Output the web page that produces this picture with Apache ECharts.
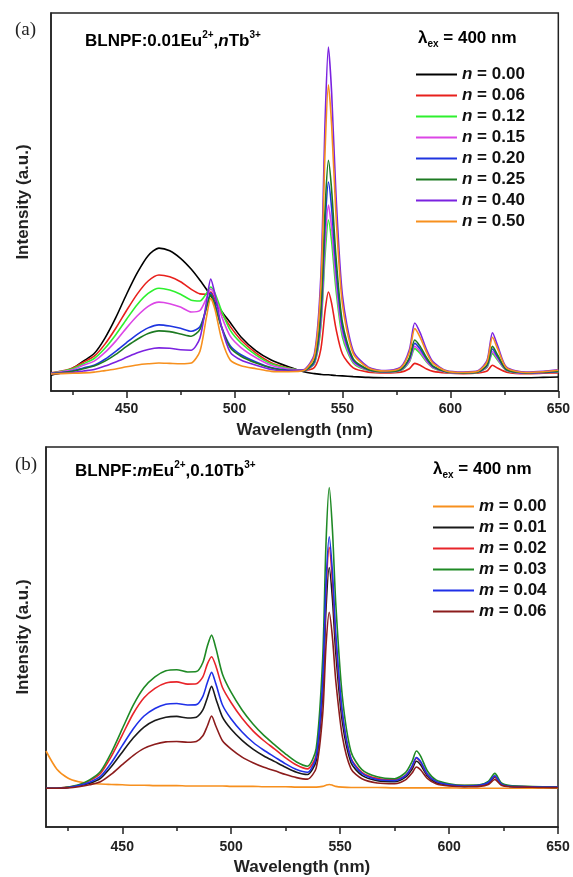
<!DOCTYPE html>
<html><head><meta charset="utf-8">
<script src="https://cdn.jsdelivr.net/npm/echarts@6/dist/echarts.min.js"></script>
<style>html,body{margin:0;padding:0;background:#fff}#c{width:573px;height:877px}</style>
</head><body><div id="c"></div>
<script>
// ---------- data ----------
const majorTicks = [450, 500, 550, 600, 650];
const minorTicks = [425, 475, 525, 575, 625];

const wlA = [415,420,425,430,435,440,445,450,455,460,465,470,475,480,484,487,489,491,494,498,503,510,517,525,532,537,540,542,543.5,545,547,550,555,562,570,577,581,583.5,586,589,592,598,606,613,617,619.5,622,626,635,643,650];
const namesA = ['n = 0.00','n = 0.06','n = 0.12','n = 0.15','n = 0.20','n = 0.25','n = 0.40','n = 0.50'];
const n000 = [4.2,4.8,6.0,7.9,9.9,14.0,19.4,25.6,31.3,35.8,37.8,37.1,35.1,32.2,29.3,26.9,25.2,23.5,21.1,18.1,14.3,10.6,8.2,6.4,5.1,4.6,4.4,4.3,4.3,4.2,4.1,4.0,3.8,3.6,3.5,3.5,3.5,3.5,3.5,3.5,3.5,3.5,3.5,3.5,3.5,3.5,3.5,3.5,3.5,3.6,3.7];
const n006 = [4.8,5.3,6.1,7.6,9.2,12.4,16.6,21.3,25.7,29.1,30.7,30.2,28.9,26.9,25.7,25.6,26.2,24.2,20.7,17.1,13.5,10.0,7.5,6.1,5.4,6.2,11.1,21.4,26.2,23.2,16.5,9.8,6.1,5.0,4.8,5.0,5.9,7.3,6.8,5.8,5.2,4.8,4.6,4.8,5.3,6.8,6.0,5.0,4.6,4.7,4.8];
const n012 = [4.7,5.2,5.9,7.2,8.6,11.3,14.9,19.0,22.9,25.8,27.2,26.7,25.6,24.0,23.8,25.8,27.5,25.8,21.2,16.1,12.7,9.5,7.2,6.0,5.5,7.2,16.8,36.3,45.2,39.5,26.9,14.3,7.4,5.4,5.0,5.4,7.7,11.2,9.9,7.7,6.1,5.0,4.7,5.0,6.3,9.9,8.1,5.4,4.7,4.9,5.0];
const n015 = [4.7,5.1,5.6,6.8,7.9,10.2,13.2,16.7,19.9,22.4,23.5,23.1,22.2,20.9,21.3,24.5,27.0,25.0,19.8,14.5,11.5,8.8,6.8,5.8,5.5,7.5,18.0,39.4,49.2,43.0,29.1,15.3,7.7,5.5,5.0,5.5,7.9,11.8,10.4,7.9,6.2,5.0,4.7,5.0,6.5,10.4,8.4,5.5,4.7,4.9,5.1];
const n020 = [4.6,4.9,5.3,6.1,6.8,8.4,10.5,12.8,15.0,16.7,17.5,17.2,16.6,15.8,17.0,22.0,26.0,23.0,17.0,12.0,9.6,7.7,6.2,5.5,5.4,7.7,19.8,44.1,55.3,48.2,32.5,16.8,8.1,5.6,5.1,5.6,8.4,12.6,11.1,8.4,6.4,5.1,4.8,5.1,6.7,11.1,8.9,5.6,4.8,4.9,5.2];
const n025 = [4.6,4.8,5.2,5.9,6.6,7.9,9.7,11.8,13.7,15.2,15.9,15.7,15.1,14.5,16.3,22.0,25.5,22.5,16.8,11.5,9.2,7.4,6.1,5.4,5.4,8.1,21.5,48.6,61.0,53.1,35.6,18.1,8.5,5.7,5.1,5.7,8.8,13.5,11.8,8.8,6.6,5.1,4.8,5.1,6.9,11.8,9.4,5.7,4.8,5.0,5.2];
const n040 = [4.6,4.7,4.9,5.3,5.7,6.6,7.7,8.9,10.1,11.0,11.4,11.3,10.9,10.8,14.0,23.5,29.6,25.5,17.0,10.3,8.2,6.8,5.7,5.3,5.6,9.8,30.5,72.0,91.0,78.9,52.1,25.3,10.6,6.3,5.4,6.3,10.9,18.0,15.4,10.9,7.7,5.4,5.0,5.4,8.1,15.4,11.8,6.3,5.0,5.2,5.6];
const n050 = [4.5,4.6,4.7,4.8,5.0,5.4,5.8,6.4,6.9,7.2,7.4,7.3,7.2,7.4,10.5,19.5,24.5,21.5,13.8,8.2,6.7,5.9,5.2,5.1,5.4,9.2,27.5,64.2,81.0,70.3,46.6,22.9,9.9,6.1,5.3,6.1,10.2,16.5,14.2,10.2,7.3,5.3,4.9,5.3,7.7,14.2,11.0,6.1,4.9,5.1,5.5];
const colorsA = ['#000000','#e8201c','#2ef02e','#dc46e6','#1f35e0','#1d7a22','#7b22e0','#f7901e'];

const wlB = [415,420,425,430,435,440,445,450,455,460,465,470,475,480,484,487,489,491,493,496,500,505,510,515,520,525,530,535,539,542,543.5,545,546.5,548,551,555,560,567,575,580,583,585,587,590,594,600,607,614,618,621,624,628,636,643,650];
const namesB = ['m = 0.00','m = 0.01','m = 0.02','m = 0.03','m = 0.04','m = 0.06'];
const m000 = [20.0,15.2,12.9,11.9,11.5,11.3,11.2,11.1,11.0,11.0,10.9,10.9,10.9,10.8,10.8,10.8,10.8,10.8,10.8,10.8,10.7,10.7,10.7,10.6,10.6,10.6,10.5,10.5,10.5,10.7,11.0,11.2,11.0,10.7,10.5,10.4,10.4,10.4,10.3,10.3,10.3,10.3,10.3,10.3,10.3,10.3,10.2,10.2,10.2,10.2,10.2,10.2,10.2,10.2,10.2];
const m001 = [10.2,10.2,10.4,10.8,11.5,12.8,15.9,19.7,23.4,26.3,28.0,28.9,29.1,28.7,28.9,30.8,33.9,37.0,33.7,28.9,25.7,22.8,20.5,18.7,17.2,15.7,14.4,13.8,17.4,35.0,57.2,68.3,59.8,45.8,27.7,16.9,13.6,12.2,11.9,13.1,15.2,17.3,16.3,13.5,11.7,11.0,10.7,10.9,11.5,13.1,11.2,10.7,10.5,10.5,10.4];
const m002 = [10.2,10.2,10.5,11.0,12.2,14.1,18.6,24.2,29.8,34.0,36.5,37.9,38.2,37.6,37.7,39.5,42.8,44.8,42.3,36.7,32.7,28.6,25.3,22.7,20.5,18.2,16.3,15.3,18.9,37.8,61.7,73.6,64.4,49.3,29.8,18.1,14.4,12.8,12.4,13.6,15.8,18.1,17.0,13.9,12.0,11.2,10.9,11.0,11.7,13.3,11.3,10.8,10.6,10.5,10.5];
const m003 = [10.2,10.2,10.5,11.1,12.4,14.6,19.6,25.8,32.0,36.7,39.5,41.1,41.4,40.8,40.9,43.3,47.5,50.5,47.0,40.2,35.4,30.8,27.1,24.1,21.6,19.2,17.1,16.0,20.6,44.4,74.4,89.3,77.9,58.8,34.4,19.8,15.1,13.2,12.7,14.3,17.2,20.0,18.6,14.8,12.4,11.4,11.0,11.1,12.0,14.1,11.6,10.9,10.7,10.6,10.6];
const m004 = [10.2,10.2,10.4,10.9,11.8,13.3,16.9,21.4,25.8,29.2,31.2,32.3,32.5,32.1,32.2,34.4,37.9,40.7,37.6,32.1,28.4,25.0,22.3,20.2,18.4,16.6,15.1,14.4,18.4,38.5,63.8,76.4,66.8,50.8,30.2,17.9,14.1,12.5,12.2,13.5,16.0,18.3,17.2,13.9,12.0,11.1,10.8,11.0,11.7,13.5,11.3,10.7,10.6,10.5,10.5];
const m006 = [10.2,10.2,10.3,10.6,11.1,11.9,13.9,16.4,18.8,20.7,21.8,22.4,22.5,22.3,22.5,24.0,26.5,29.2,26.5,22.7,20.5,18.4,16.9,15.7,14.8,13.8,13.0,12.6,15.5,29.7,47.5,56.5,49.7,38.5,23.9,15.3,12.7,11.6,11.4,12.4,14.2,15.8,15.0,12.8,11.4,10.8,10.6,10.7,11.2,12.5,11.0,10.6,10.5,10.4,10.4];
const colorsB = ['#f7901e','#1a1a1a','#e8252a','#1f8a25','#1f30e8','#8c1c1c'];

// ---------- chart ----------
const F = '"Liberation Sans", Arial, sans-serif';
const pairs = (xs, ys) => xs.map((x, i) => [x, ys[i]]);
const seriesA = [n000, n006, n012, n015, n020, n025, n040, n050];
const seriesB = [m000, m001, m002, m003, m004, m006];

const rich = {
  b: {fontSize: 17, fontWeight: 'bold', fontFamily: F, color: '#111', lineHeight: 22},
  bi: {fontSize: 17, fontWeight: 'bold', fontStyle: 'italic', fontFamily: F, color: '#111', lineHeight: 22},
  sup: {fontSize: 10, fontWeight: 'bold', fontFamily: F, color: '#111', verticalAlign: 'top', lineHeight: 22},
  sub: {fontSize: 10, fontWeight: 'bold', fontFamily: F, color: '#111', verticalAlign: 'bottom', lineHeight: 22}
};
const legRich = {
  i: {fontSize: 17, fontWeight: 'bold', fontStyle: 'italic', fontFamily: F, color: '#111', lineHeight: 18},
  t: {fontSize: 17, fontWeight: 'bold', fontFamily: F, color: '#111', lineHeight: 18}
};
const legendFmt = name => '{i|' + name.charAt(0) + '}{t|' + name.slice(1) + '}';

function xAxes(gi, labelMargin, nameGap) {
  const common = {gridIndex: gi, type: 'value', min: 415, max: 650, splitLine: {show: false}};
  return [
    Object.assign({}, common, {
      position: 'bottom',
      axisLine: {show: true, lineStyle: {color: '#222', width: 1.5}},
      axisTick: {show: true, inside: false, length: 7, customValues: majorTicks, lineStyle: {color: '#222', width: 1.5}},
      axisLabel: {customValues: majorTicks, fontSize: 14, fontWeight: 'bold', fontFamily: F, color: '#222', margin: labelMargin},
      name: 'Wavelength (nm)', nameLocation: 'middle', nameGap: nameGap,
      nameTextStyle: {fontSize: 17, fontWeight: 'bold', fontFamily: F, color: '#222'}
    }),
    Object.assign({}, common, {
      position: 'bottom',
      axisLine: {show: false},
      axisTick: {show: true, inside: false, length: 4, customValues: minorTicks, lineStyle: {color: '#222', width: 1.5}},
      axisLabel: {show: false}
    })
  ];
}
function yAxis(gi, gap) {
  return {
    gridIndex: gi, type: 'value', min: 0, max: 100,
    axisLine: {show: true, lineStyle: {color: '#222', width: 1.5}},
    axisTick: {show: false}, axisLabel: {show: false}, splitLine: {show: false},
    name: 'Intensity (a.u.)', nameLocation: 'middle', nameRotate: 90, nameGap: gap,
    nameTextStyle: {fontSize: 17, fontWeight: 'bold', fontFamily: F, color: '#222'}
  };
}

const series = [];
seriesA.forEach((ys, i) => series.push({
  name: namesA[i], type: 'line', xAxisIndex: 0, yAxisIndex: 0, data: pairs(wlA, ys),
  showSymbol: false, symbol: 'none', smooth: 0.25, color: colorsA[i], lineStyle: {width: 1.6, color: colorsA[i]}
}));
seriesB.forEach((ys, i) => series.push({
  name: namesB[i], type: 'line', xAxisIndex: 2, yAxisIndex: 1, data: pairs(wlB, ys),
  showSymbol: false, symbol: 'none', smooth: 0.25, color: colorsB[i], lineStyle: {width: 1.6, color: colorsB[i]}
}));

const legendBase = {
  orient: 'vertical', icon: 'rect', itemWidth: 41, itemHeight: 2, itemGap: 4,
  selectedMode: false, formatter: legendFmt, textStyle: {rich: legRich, fontSize: 17, fontWeight: 'bold', fontFamily: F}
};

const option = {
  animation: false,
  backgroundColor: '#fff',
  grid: [
    {left: 51, right: 14, top: 13, height: 378, show: true, borderColor: '#222', borderWidth: 1.5},
    {left: 46, right: 15, top: 447, height: 382, show: true, borderColor: '#222', borderWidth: 1.5}
  ],
  xAxis: xAxes(0, 11, 31).concat(xAxes(1, 13, 32)),
  yAxis: [yAxis(0, 19), yAxis(1, 14)],
  legend: [
    Object.assign({}, legendBase, {data: namesA, left: 411, top: 61}),
    Object.assign({}, legendBase, {data: namesB, left: 428, top: 493})
  ],
  graphic: [
    {type: 'text', left: 15, top: 21, style: {text: '(a)', font: '19px "Liberation Serif", serif', fill: '#222'}},
    {type: 'text', left: 15, top: 456, style: {text: '(b)', font: '19px "Liberation Serif", serif', fill: '#222'}},
    {type: 'text', left: 85, top: 30, style: {text: '{b|BLNPF:0.01Eu}{sup|2+}{b|,}{bi|n}{b|Tb}{sup|3+}', rich: rich}},
    {type: 'text', left: 75, top: 460, style: {text: '{b|BLNPF:}{bi|m}{b|Eu}{sup|2+}{b|,0.10Tb}{sup|3+}', rich: rich}},
    {type: 'text', left: 418, top: 30, style: {text: '{b|λ}{sub|ex}{b| = 400 nm}', rich: rich}},
    {type: 'text', left: 433, top: 461, style: {text: '{b|λ}{sub|ex}{b| = 400 nm}', rich: rich}}
  ],
  series: series
};
echarts.init(document.getElementById('c'), null, {renderer: 'canvas'}).setOption(option);
</script>
</body></html>
